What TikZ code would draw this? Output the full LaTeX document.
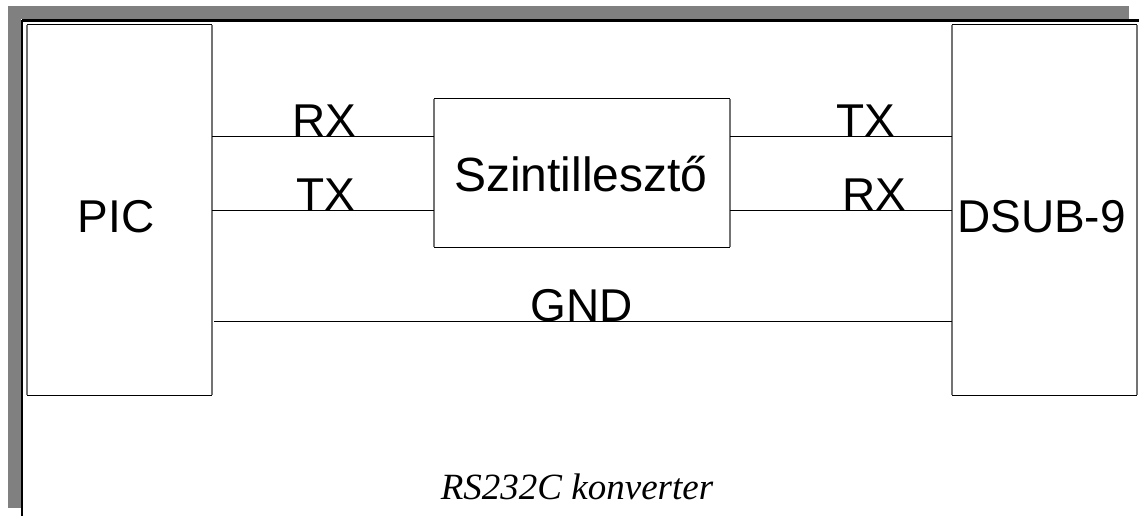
\documentclass[tikz,border=0pt]{standalone}
\usepackage{fontspec}
\setmainfont{Liberation Serif}
\newfontfamily\arialfont{Liberation Sans}
\begin{document}
\begin{tikzpicture}[x=1pt,y=-1pt,
  box/.style={draw=none,minimum width=#1,inner sep=0pt},
  hedge/.style={draw=black,line width=1pt},
  vedge/.style={draw=black!55,line width=1.5pt},
  wire/.style={draw=black,line width=1pt},
  lbl/.style={font=\arialfont\fontsize{46}{50}\selectfont,inner sep=0pt,anchor=base},
  title/.style={font=\arialfont\fontsize{48}{52}\selectfont,inner sep=0pt,anchor=base},
  caption/.style={font=\itshape\fontsize{37}{40}\selectfont,inner sep=0pt,anchor=base}]
\useasboundingbox (0,0) rectangle (1139,516);
\fill[white] (0,0) rectangle (1139,516);
% page shadow and frame
\fill[black!50] (8,6) rectangle (1129,19.5);
\fill[black!50] (8,6) rectangle (21,508);
\draw[black,line width=2.3pt] (22,20.5) -- (1139,20.5);
\draw[black,line width=2.3pt] (22,20.5) -- (22,516);
% blocks
\node[box=185pt,minimum height=370pt] (pic) at (119.5,210) {};
\node[box=185pt,minimum height=370pt] (dsub) at (1044.5,210) {};
\node[box=296pt,minimum height=148pt] (mid) at (582,173) {};
\foreach \b in {pic,dsub,mid}{
  \draw[hedge] (\b.north west) -- (\b.north east);
  \draw[hedge] (\b.south west) -- (\b.south east);
  \draw[vedge] (\b.north west) -- (\b.south west);
  \draw[vedge] (\b.north east) -- (\b.south east);
}
\node[lbl] (pict) at (116,232) {PIC};
\node[lbl] (dsubt) at (1041.5,232) {DSUB-9};
\node[title] (midt) at (581,191) {Szintillesztő};
% signal labels
\node[lbl] (rxl) at (324,136) {RX};
\node[lbl] (txl) at (326,210) {TX};
\node[lbl] (txr) at (866,136) {TX};
\node[lbl] (rxr) at (874,210) {RX};
\node[lbl] (gnd) at (582,321) {GND};
% wires
\draw[wire] (pic.east |- rxl.base) -- (mid.west |- rxl.base);
\draw[wire] (pic.east |- txl.base) -- (mid.west |- txl.base);
\draw[wire] (mid.east |- txr.base) -- (dsub.west |- txr.base);
\draw[wire] (mid.east |- rxr.base) -- (dsub.west |- rxr.base);
\draw[wire] ([xshift=2pt]pic.east |- gnd.base) -- (dsub.west |- gnd.base);
% caption
\node[caption] (cap) at (577,499) {RS232C konverter};
\end{tikzpicture}
\end{document}
